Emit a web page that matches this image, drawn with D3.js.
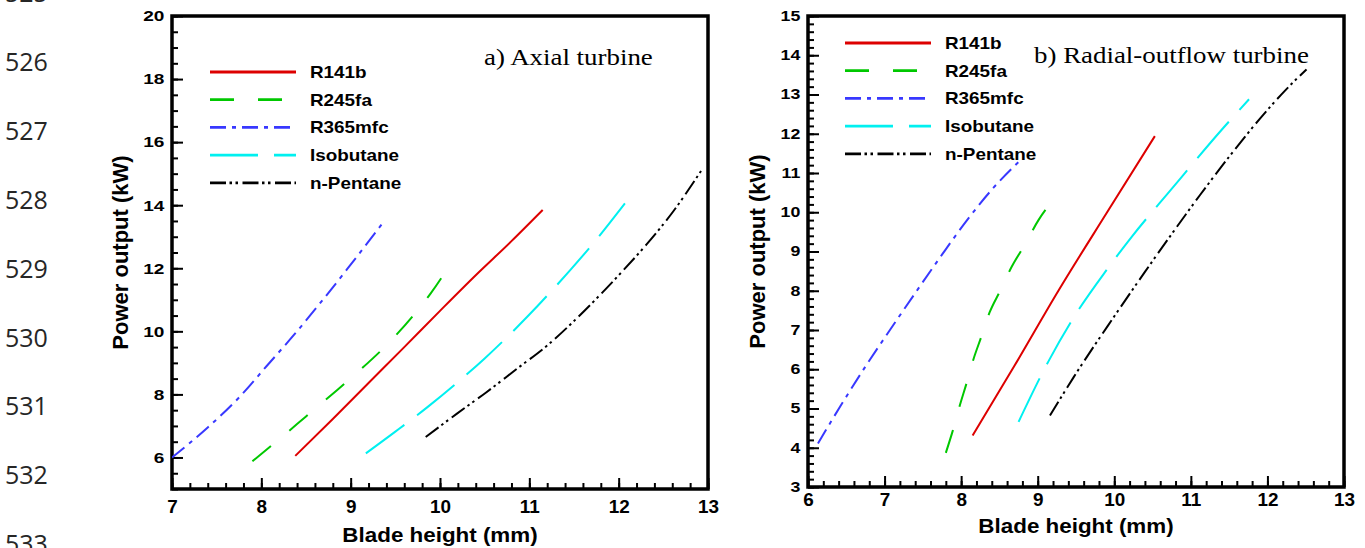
<!doctype html>
<html lang="en">
<head>
<meta charset="utf-8">
<title>Power output vs blade height</title>
<script src="https://d3js.org/d3.v7.min.js"></script>
<style>
body { margin: 0; background: #fff; }
svg text { font-family: "Liberation Sans", Arial, sans-serif; fill: #000; }
.tick text { font-weight: bold; }
.lineno { font-family: "Open Sans", sans-serif; font-size: 25px; fill: #262626; }
</style>
</head>
<body>
<div id="chart"></div>
<script>

// fluids shown in both panels
var fluids = ["R141b", "R245fa", "R365mfc", "Isobutane", "n-Pentane"];
var fluidColors = ["#dd0000", "#00c800", "#3838ff", "#00f0f0", "#000000"];
var fluidDashes = ["none", "24,24", "16,6,4,6", "48,16", "16,3.5,2.5,3.5,2.5,4.5"];

// a) axial turbine: [blade height (mm), power (kW)]
var axialR141b = [[8.38,6.05],[8.8,7.22],[9.2,8.36],[9.6,9.5],[10.0,10.65],[10.4,11.78],[10.8,12.86],[11.15,13.85]];
var axialR245fa = [[7.9,5.88],[8.2,6.58],[8.5,7.3],[8.8,8.02],[9.1,8.76],[9.4,9.56],[9.7,10.5],[9.9,11.22],[10.08,11.97]];
var axialR365mfc = [[7.0,6.0],[7.4,6.95],[7.76,7.93],[8.06,8.9],[8.36,9.87],[8.66,10.9],[8.96,11.97],[9.35,13.4]];
var axialIsobutane = [[9.17,6.13],[9.5,6.82],[9.87,7.62],[10.22,8.44],[10.5,9.14],[10.99,10.5],[11.46,11.95],[11.68,12.67],[12.07,14.06]];
var axialPentane = [[9.84,6.65],[10.19,7.39],[10.52,8.07],[10.86,8.81],[11.2,9.55],[11.49,10.3],[11.79,11.15],[12.05,11.93],[12.31,12.75],[12.61,13.8],[12.93,15.12]];

// b) radial-outflow turbine
var radialR141b = [[8.15,4.31],[8.7,6.1],[9.27,8.0],[9.9,9.98],[10.53,11.94]];
var radialR245fa = [[7.8,3.87],[7.89,4.43],[7.98,5.06],[8.07,5.64],[8.16,6.25],[8.26,6.81],[8.37,7.44],[8.51,8.0],[8.66,8.61],[8.83,9.17],[9.01,9.8],[9.2,10.31]];
var radialR365mfc = [[6.13,4.11],[6.42,5.05],[6.75,6.07],[7.07,7.0],[7.4,7.94],[7.75,8.92],[8.07,9.78],[8.42,10.62],[8.77,11.32]];
var radialIsobutane = [[8.75,4.66],[9.14,6.2],[9.49,7.38],[9.9,8.53],[10.23,9.38],[10.73,10.55],[11.42,12.14],[11.76,12.88]];
var radialPentane = [[9.16,4.82],[9.47,5.8],[9.99,7.32],[10.4,8.48],[10.77,9.5],[11.12,10.44],[11.51,11.44],[11.9,12.38],[12.23,13.1],[12.51,13.64]];

// axis ranges and ticks
var axialXTicks = [7, 8, 9, 10, 11, 12, 13];
var axialYTicks = [6, 8, 10, 12, 14, 16, 18, 20];
var radialXTicks = [6, 7, 8, 9, 10, 11, 12, 13];
var radialYTicks = [3, 4, 5, 6, 7, 8, 9, 10, 11, 12, 13, 14, 15];

// line numbers of the manuscript page
var lineNumbers = ["525", "526", "527", "528", "529", "530", "531", "532", "533"];

var width = 1365;
var height = 548;

var svg = d3.select("#chart").append("svg")
    .attr("width", width)
    .attr("height", height);

//line numbers down the left margin
svg.selectAll(".lineno")
    .data(lineNumbers)
    .enter().append("text")
    .attr("class", "lineno")
    .attr("x", 5)
    .attr("y", function(d, i) { return 2 + i * 68.9; })
    .text(function(d) { return d; });

//text stretched horizontally like the original export
function stretchedText(parent, x, y, str, size, sx, opts) {
    opts = opts || {};
    var t = parent.append("text")
        .attr("transform", "translate(" + x + "," + y + ") scale(" + sx + ",1)")
        .style("font-size", size + "px")
        .attr("text-anchor", opts.anchor || "start")
        .text(str);
    if (opts.bold) t.style("font-weight", "bold");
    if (opts.serif) t.style("font-family", "'Liberation Serif', 'Times New Roman', serif");
    return t;
}

function drawPanel(p) {
    var g = svg.append("g");

    var x = d3.scaleLinear().domain(p.xDomain).range([p.left, p.right]);
    var y = d3.scaleLinear().domain(p.yDomain).range([p.bottom, p.top]);

    var clipId = "clip-" + p.id;
    svg.append("clipPath").attr("id", clipId)
        .append("rect")
        .attr("x", p.left).attr("y", p.top)
        .attr("width", p.right - p.left).attr("height", p.bottom - p.top);

    //minor ticks first
    var xMinor = d3.range(p.xDomain[0], p.xDomain[1] + 1e-6, p.xMinorStep);
    var yMinor = d3.range(p.yDomain[0], p.yDomain[1] + 1e-6, p.yMinorStep);

    g.append("g")
        .attr("transform", "translate(0," + p.bottom + ")")
        .call(d3.axisBottom(x).tickValues(xMinor).tickSize(-6).tickFormat(""));
    g.append("g")
        .attr("transform", "translate(" + p.left + ",0)")
        .call(d3.axisLeft(y).tickValues(yMinor).tickSize(-6).tickFormat(""));

    //major ticks with labels
    var xAxis = g.append("g")
        .attr("transform", "translate(0," + p.bottom + ")")
        .call(d3.axisBottom(x).tickValues(p.xTicks).tickSize(-11).tickPadding(p.xPad).tickFormat(d3.format("d")));
    xAxis.selectAll(".tick text")
        .style("font-size", "18px")
        .attr("transform", "scale(1.05,1)");

    var yAxis = g.append("g")
        .attr("transform", "translate(" + p.left + ",0)")
        .call(d3.axisLeft(y).tickValues(p.yTicks).tickSize(-11).tickPadding(6).tickFormat(d3.format("d")));
    yAxis.selectAll(".tick text")
        .style("font-size", p.yFont + "px")
        .attr("transform", "scale(1.27,1)");

    g.selectAll(".domain").remove();
    g.selectAll(".tick line").attr("stroke", "#000").attr("stroke-width", 2);

    //frame
    g.append("rect")
        .attr("x", p.left).attr("y", p.top)
        .attr("width", p.right - p.left).attr("height", p.bottom - p.top)
        .attr("fill", "none")
        .attr("stroke", "#000")
        .attr("stroke-width", 3.5);

    //data lines
    var line = d3.line()
        .x(function(d) { return x(d[0]); })
        .y(function(d) { return y(d[1]); })
        .curve(d3.curveMonotoneX);

    p.series.forEach(function(s, i) {
        g.append("path")
            .attr("clip-path", "url(#" + clipId + ")")
            .attr("d", line(s))
            .attr("fill", "none")
            .attr("stroke", fluidColors[i])
            .attr("stroke-width", 2)
            .attr("stroke-dasharray", fluidDashes[i]);
    });

    //legend
    fluids.forEach(function(name, i) {
        var ly = p.legendY + i * 27.7;
        g.append("line")
            .attr("x1", p.legendX).attr("x2", p.legendX + 86)
            .attr("y1", ly).attr("y2", ly)
            .attr("stroke", fluidColors[i])
            .attr("stroke-width", 2.8)
            .attr("stroke-dasharray", fluidDashes[i]);
        stretchedText(g, p.legendX + 100, ly + 6, name, 16, 1.18, { bold: true });
    });

    //panel title
    stretchedText(g, p.titleX, p.titleY, p.title, 23, 1.17, { serif: true });

    //axis titles
    stretchedText(g, (p.left + p.right) / 2, p.xTitleY, "Blade height (mm)", 20, 1.12, { bold: true, anchor: "middle" });
    g.append("text")
        .attr("transform", "translate(" + p.yTitleX + "," + (p.top + p.bottom) / 2 + ") rotate(-90)")
        .attr("text-anchor", "middle")
        .style("font-size", "22px")
        .style("font-weight", "bold")
        .text("Power output (kW)");
}

drawPanel({
    id: "a",
    left: 172, right: 708, top: 16, bottom: 489,
    xDomain: [7, 13], yDomain: [5, 20],
    xTicks: axialXTicks, yTicks: axialYTicks,
    xMinorStep: 0.2, yMinorStep: 0.5,
    xPad: 11, yFont: 15,
    series: [axialR141b, axialR245fa, axialR365mfc, axialIsobutane, axialPentane],
    legendX: 210, legendY: 72,
    title: "a) Axial turbine", titleX: 484, titleY: 65,
    xTitleY: 542, yTitleX: 128
});

drawPanel({
    id: "b",
    left: 808, right: 1344, top: 16, bottom: 487,
    xDomain: [6, 13], yDomain: [3, 15],
    xTicks: radialXTicks, yTicks: radialYTicks,
    xMinorStep: 0.2, yMinorStep: 0.2,
    xPad: 6, yFont: 14,
    series: [radialR141b, radialR245fa, radialR365mfc, radialIsobutane, radialPentane],
    legendX: 845, legendY: 43,
    title: "b) Radial-outflow turbine", titleX: 1034, titleY: 63,
    xTitleY: 533, yTitleX: 765
});

</script>
</body>
</html>
